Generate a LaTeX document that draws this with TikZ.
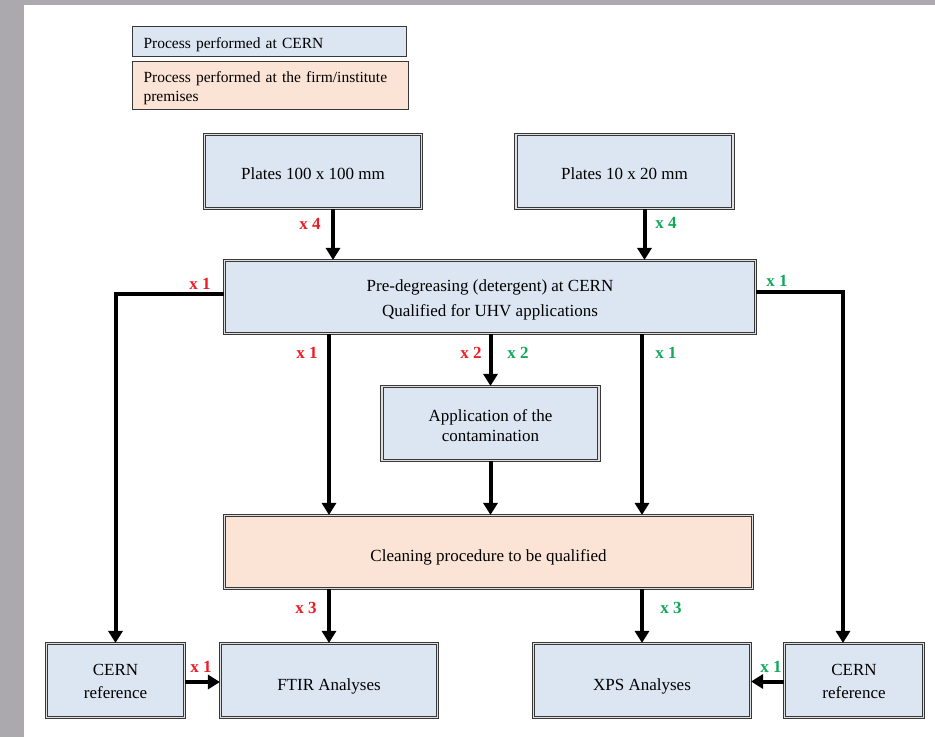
\documentclass[tikz,border=0pt]{standalone}
\usepackage{fontspec}
\setmainfont{Liberation Serif}
\usetikzlibrary{arrows.meta,calc}
\definecolor{cblue}{HTML}{DCE6F2}
\definecolor{cpeach}{HTML}{FBE4D6}
\definecolor{cred}{HTML}{EE1C25}
\definecolor{cgreen}{HTML}{12A85A}
\definecolor{bord}{HTML}{383838}
\definecolor{bgtex}{HTML}{ABA9AD}
\newcommand{\lowr}[3][c]{\raisebox{-#2}[\height][\depth]{\begin{tabular}{@{}#1@{}}#3\end{tabular}}}
\begin{document}
\begin{tikzpicture}[x=1pt,y=-1pt,
  box/.style={draw=bord, line width=1.1pt, double=white!75!gray, double distance=1.4pt,
    fill=cblue, inner sep=0pt, font=\fontsize{17}{21}\selectfont,
    minimum width=217pt, minimum height=74pt},
  peach/.style={fill=cpeach},
  legbox/.style={draw=bord, line width=1.3pt, inner xsep=11pt, inner ysep=0pt, align=left,
    font=\fontsize{15.5}{19}\selectfont},
  arr/.style={line width=4pt, -{Triangle[length=12pt,width=14pt]}},
  lab/.style={font=\fontsize{17}{20}\selectfont\bfseries, inner sep=0pt},
  labr/.style={lab, text=cred},
  labg/.style={lab, text=cgreen}]
\useasboundingbox (0,0) rectangle (935,737);
\fill[bgtex] (0,0) rectangle (935,737);
\fill[white] (24,5) rectangle (935,737);

% legend
\node[legbox, fill=cblue, minimum width=274pt, minimum height=30pt, text width=252pt] (leg1) at (269.5,41.5) {\lowr[l]{3pt}{Process performed at CERN}};
\node[legbox, fill=cpeach, minimum width=276pt, minimum height=48pt, text width=254pt] (leg2) at (270.5,85.5) {\lowr[l]{3pt}{Process performed at the firm/institute\\premises}};

% boxes
\node[box] (p100) at (313,171.5) {\lowr{4pt}{Plates 100 x 100 mm}};
\node[box] (p10) at (624.5,171.5) {\lowr{4pt}{Plates 10 x 20 mm}};
\node[box, minimum width=531pt, minimum height=73pt, font=\fontsize{17}{25}\selectfont] (pre) at (490,297) {\lowr{1.5pt}{Pre-degreasing (detergent) at CERN\\Qualified for UHV applications}};
\node[box, font=\fontsize{17}{20}\selectfont] (app) at (490.5,423.5) {\lowr{4pt}{Application of the\\contamination}};
\node[box, peach, minimum width=528pt, minimum height=73pt] (clean) at (488.5,552) {\lowr{5.5pt}{Cleaning procedure to be qualified}};
\node[box, minimum width=138pt, font=\fontsize{17}{23}\selectfont] (crefl) at (115.5,680.5) {\lowr{2pt}{CERN\\reference}};
\node[box] (ftir) at (329,680.5) {\lowr{5.5pt}{FTIR Analyses}};
\node[box] (xps) at (642,680.5) {\lowr{5.5pt}{XPS Analyses}};
\node[box, minimum width=139pt, font=\fontsize{17}{23}\selectfont] (crefr) at (854,680.5) {\lowr{2pt}{CERN\\reference}};

% connectors
\draw[arr] ([xshift=20pt]p100.south) -- ([xshift=20pt]p100.south |- pre.north);
\draw[arr] ([xshift=20pt]p10.south) -- ([xshift=20pt]p10.south |- pre.north);
\draw[arr] ([yshift=3pt]pre.west) -| (crefl.north);
\coordinate (rc) at (843,292);
\draw[arr] (pre.east |- rc) -- (rc) -- (rc |- crefr.north);
\draw[arr] (pre.south -| ftir.north) -- (clean.north -| ftir.north);
\draw[arr] (pre.south -| app.north) -- (app.north);
\draw[arr] (pre.south -| xps.north) -- (clean.north -| xps.north);
\draw[arr] (app.south) -- (clean.north -| app.south);
\draw[arr] (clean.south -| ftir.north) -- (ftir.north);
\draw[arr] (clean.south -| xps.north) -- (xps.north);
\draw[arr] ([yshift=-1.5pt]crefl.east) -- ([yshift=-1.5pt]ftir.west);
\draw[arr] ([yshift=-1pt]crefr.west) -- ([yshift=-1pt]xps.east);

% labels
\node[labr] (l1) at (310,224) {x 4};
\node[labg] (l2) at (666,223) {x 4};
\node[labr] (l3) at (200,284) {x 1};
\node[labg] (l4) at (777,281) {x 1};
\node[labr] (l5) at (307,353) {x 1};
\node[labr] (l6) at (471,353) {x 2};
\node[labg] (l7) at (518,353) {x 2};
\node[labg] (l8) at (666,353) {x 1};
\node[labr] (l9) at (306,608) {x 3};
\node[labg] (l10) at (671,608) {x 3};
\node[labr] (l11) at (201,667) {x 1};
\node[labg] (l12) at (771,667) {x 1};
\end{tikzpicture}
\end{document}
